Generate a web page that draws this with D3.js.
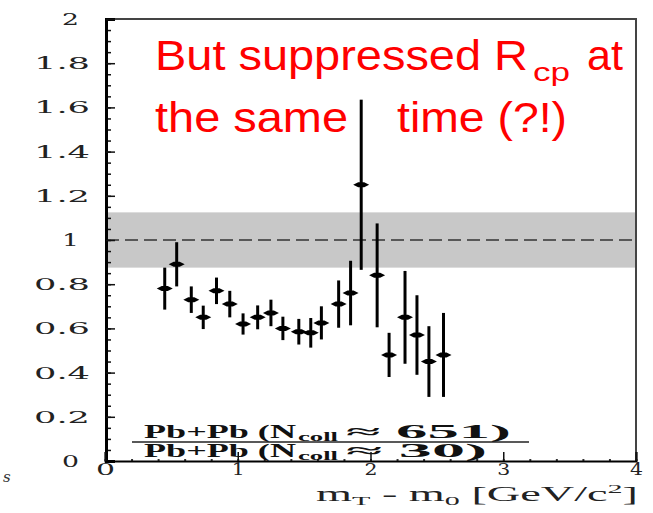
<!DOCTYPE html>
<html>
<head>
<meta charset="utf-8">
<script src="https://cdn.jsdelivr.net/npm/d3@7"></script>
<style>
  body { margin: 0; background: #fff; }
  svg { display: block; }
</style>
</head>
<body>
<div id="chart"></div>
<script>
// R_cp points
const ptX   = [0.45, 0.54, 0.65, 0.74, 0.84, 0.94, 1.04, 1.15, 1.25, 1.34, 1.46, 1.55, 1.63, 1.76, 1.85, 1.93, 2.05, 2.14, 2.26, 2.35, 2.44, 2.55];
const ptY   = [0.78, 0.89, 0.73, 0.65, 0.77, 0.71, 0.62, 0.65, 0.67, 0.60, 0.585, 0.58, 0.625, 0.71, 0.76, 1.25, 0.84, 0.48, 0.65, 0.57, 0.45, 0.48];
const ptErr = [0.095, 0.10, 0.06, 0.053, 0.06, 0.06, 0.048, 0.054, 0.06, 0.053, 0.058, 0.067, 0.075, 0.107, 0.146, 0.385, 0.235, 0.10, 0.21, 0.18, 0.16, 0.19];

// systematic band round unity
const bandLow = 0.875, bandHigh = 1.125;

const xTicks = [0, 1, 2, 3, 4];
const yTicks = [0, 0.2, 0.4, 0.6, 0.8, 1, 1.2, 1.4, 1.6, 1.8, 2];

const width = 653, height = 513;
const plotL = 106, plotR = 636, plotT = 19, plotB = 461;

const svg = d3.select("#chart").append("svg")
    .attr("width", width)
    .attr("height", height);

const x = d3.scaleLinear().domain([0, 4]).range([plotL - 1, plotR]);
const y = d3.scaleLinear().domain([0, 2]).range([plotB, plotT]);

// grey band and dashed line at 1
svg.append("rect")
    .attr("x", plotL)
    .attr("y", y(bandHigh))
    .attr("width", plotR - plotL)
    .attr("height", y(bandLow) - y(bandHigh))
    .attr("fill", "#c8c8c8");

svg.append("line")
    .attr("x1", plotL).attr("x2", plotR)
    .attr("y1", y(1)).attr("y2", y(1))
    .attr("stroke", "#333")
    .attr("stroke-width", 1.5)
    .attr("stroke-dasharray", "13,6");

// frame
svg.append("path")
    .attr("d", `M${plotL},${plotT}H${plotR}V${plotB}`)
    .attr("fill", "none")
    .attr("stroke", "#444")
    .attr("stroke-width", 2);

// y axis: minor then major ticks, inward
const yMinor = svg.append("g")
    .attr("transform", `translate(${plotL},0)`)
    .call(d3.axisLeft(y).tickValues(d3.range(0, 2.001, 0.05)).tickSize(-5).tickFormat(""));
yMinor.select(".domain").remove();
yMinor.selectAll("line").attr("stroke", "#111").attr("stroke-width", 1.5);

const yAxis = svg.append("g")
    .attr("transform", `translate(${plotL},0)`)
    .call(d3.axisLeft(y).tickValues(yTicks).tickSize(-9).tickPadding(16)
        .tickFormat(d => Number.isInteger(d) ? String(d) : d.toFixed(1)));
yAxis.select(".domain").attr("stroke", "#000").attr("stroke-width", 3);
yAxis.selectAll("line").attr("stroke", "#111").attr("stroke-width", 1.5);
yAxis.selectAll("text")
    .attr("font-family", "DejaVu Serif")
    .attr("font-size", 17)
    .attr("fill", "#222")
    .attr("x", d => Number.isInteger(d) ? -27 : -16)
    .attr("textLength", d => Number.isInteger(d) ? 17 : 56)
    .attr("lengthAdjust", "spacingAndGlyphs");

// x axis
const xMinor = svg.append("g")
    .attr("transform", `translate(0,${plotB})`)
    .call(d3.axisBottom(x).tickValues(d3.range(0, 4.001, 0.2)).tickSize(-2).tickFormat(""));
xMinor.select(".domain").remove();
xMinor.selectAll("line").attr("stroke", "#333").attr("stroke-width", 2);

const xAxis = svg.append("g")
    .attr("transform", `translate(0,${plotB})`)
    .call(d3.axisBottom(x).tickValues(xTicks).tickSize(-9).tickPadding(3).tickFormat(d3.format("d")));
xAxis.select(".domain").attr("stroke", "#000").attr("stroke-width", 2);
xAxis.selectAll("line").attr("stroke", "#111").attr("stroke-width", 1.5);
xAxis.selectAll("text")
    .attr("font-family", "DejaVu Serif")
    .attr("font-size", 16)
    .attr("fill", "#222")
    .attr("textLength", d => d === 0 ? 19 : 13)
    .attr("lengthAdjust", "spacingAndGlyphs");

// x title
const xt = svg.append("text")
    .attr("x", 316).attr("y", 501)
    .attr("font-family", "Liberation Serif")
    .attr("font-size", 20)
    .attr("fill", "#222")
    .attr("textLength", 322)
    .attr("lengthAdjust", "spacingAndGlyphs");
xt.append("tspan").text("m");
xt.append("tspan").attr("font-size", 13).attr("dy", 4).text("T");
xt.append("tspan").attr("dy", -4).text(" - m");
xt.append("tspan").attr("font-size", 13).attr("dy", 4).text("0");
xt.append("tspan").attr("dy", -4).text(" [GeV/c");
xt.append("tspan").attr("font-size", 13).attr("dy", -8).text("2");
xt.append("tspan").attr("dy", 8).text("]");

// ratio label
function ratioLine(yb, mainLen, tail, tailLen) {
    const g = svg.append("g")
        .attr("font-family", "Liberation Serif")
        .attr("font-weight", "bold")
        .attr("fill", "#111");
    g.append("text").attr("x", 144).attr("y", yb).attr("font-size", 19)
        .attr("textLength", mainLen).attr("lengthAdjust", "spacingAndGlyphs").text("Pb+Pb (N");
    g.append("text").attr("x", 298).attr("y", yb + 3).attr("font-size", 12)
        .attr("textLength", 40).attr("lengthAdjust", "spacingAndGlyphs").text("coll");
    g.append("text").attr("x", 346).attr("y", yb).attr("font-size", 19)
        .attr("textLength", tailLen).attr("lengthAdjust", "spacingAndGlyphs").text(tail);
}
ratioLine(438, 152, "\u2248 651)", 165);
svg.append("line")
    .attr("x1", 132).attr("x2", 529)
    .attr("y1", 442).attr("y2", 442)
    .attr("stroke", "#222").attr("stroke-width", 1.5);
ratioLine(457, 152, "\u2248 30)", 141);

// error bars and markers
const pts = ptX.map((d, i) => ({ x: d, y: ptY[i], e: ptErr[i] }));

svg.append("g").selectAll("line")
    .data(pts)
    .join("line")
    .attr("x1", d => x(d.x)).attr("x2", d => x(d.x))
    .attr("y1", d => y(d.y + d.e)).attr("y2", d => y(d.y - d.e))
    .attr("stroke", "#000")
    .attr("stroke-width", 3);

svg.append("g").selectAll("path")
    .data(pts)
    .join("path")
    .attr("transform", d => `translate(${x(d.x)},${y(d.y)})`)
    .attr("d", "M-8,0L-3,-2.5L3,-2.5L8,0L3,2.5L-3,2.5Z")
    .attr("fill", "#000");

// red annotation
const red = svg.append("g")
    .attr("font-family", "Liberation Sans")
    .attr("fill", "#ff0000");
red.append("text").attr("x", 155).attr("y", 70).attr("font-size", 42)
    .attr("textLength", 373).attr("lengthAdjust", "spacingAndGlyphs").text("But suppressed R");
red.append("text").attr("x", 533).attr("y", 81).attr("font-size", 25)
    .attr("textLength", 37).attr("lengthAdjust", "spacingAndGlyphs").text("cp");
red.append("text").attr("x", 587).attr("y", 70).attr("font-size", 42)
    .attr("textLength", 36).attr("lengthAdjust", "spacingAndGlyphs").text("at");
red.append("text").attr("x", 155).attr("y", 132).attr("font-size", 42)
    .attr("textLength", 193).attr("lengthAdjust", "spacingAndGlyphs").text("the same");
red.append("text").attr("x", 397).attr("y", 132).attr("font-size", 42)
    .attr("textLength", 170).attr("lengthAdjust", "spacingAndGlyphs").text("time (?!)");

// stray glyph at the left edge of the slide
svg.append("text")
    .attr("x", 3).attr("y", 482)
    .attr("font-family", "DejaVu Serif")
    .attr("font-style", "italic")
    .attr("font-size", 15)
    .attr("fill", "#333")
    .text("s");
</script>
</body>
</html>
